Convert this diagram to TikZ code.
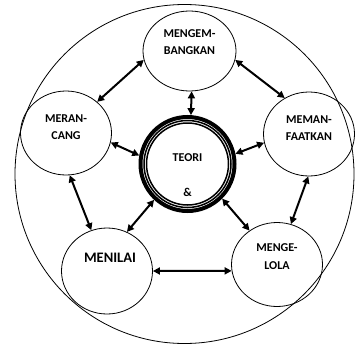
\documentclass[tikz,border=0pt]{standalone}
\usepackage{fontspec}
\setmainfont{Carlito}[BoldFont={Carlito Bold}]
\usetikzlibrary{shapes.geometric,arrows.meta}
\tikzset{
  bubble/.style={draw,ellipse,inner sep=0pt,minimum width=91pt,minimum height=84pt,line width=0.8pt},
  lbl/.style={font=\bfseries\fontsize{12}{17.5}\selectfont,align=center,inner sep=0pt},
}
\begin{document}
\begin{tikzpicture}[x=1pt,y=-1pt,>={Triangle[length=7pt,width=7pt]},line width=2pt]
  \useasboundingbox (0,0) rectangle (355,345);

  % outer circle
  \draw[line width=0.8pt] (184.5,174) circle[radius=169.5pt];

  % five stages
  \node[bubble,minimum width=93pt,minimum height=80pt] (dev) at (189.5,51) {};
  \node[bubble] (design) at (66,133) {};
  \node[bubble] (use) at (309,134) {};
  \node[bubble,minimum height=86pt] (eval) at (107,271) {};
  \node[bubble] (manage) at (277,264.5) {};

  % centre ring
  \node[circle,draw,line width=4pt,minimum size=94pt,inner sep=0pt] (teori) at (187.5,164) {};
  \draw[line width=1.5pt] (teori.center) circle[radius=43.5pt]
                          (teori.center) circle[radius=41pt];

  % labels
  \node[lbl] (devlbl) at ([yshift=9pt]dev.center) {MENGEM-\\BANGKAN};
  \node[lbl] (designlbl) at ([yshift=6pt]design.center) {MERAN-\\CANG};
  \node[lbl] (uselbl) at ([yshift=6pt]use.center) {MEMAN-\\FAATKAN};
  \node[lbl] (managelbl) at ([yshift=8pt]manage.center) {MENGE-\\LOLA};
  \node[lbl,font=\bfseries\fontsize{14.5}{17}\selectfont] (evallbl) at ([xshift=3pt,yshift=13.5pt]eval.center) {MENILAI};
  \node[lbl] (teorilbl) at ([yshift=-10.75pt]teori.center) {TEORI\\[17.75pt]\&};

  % two-way arrows
  \draw[<->] (dev.191) -- (design.45);
  \draw[<->] (dev.349) -- (use.124);
  \draw[<->] (dev.273) -- (teori.86);
  \draw[<->] (design.348) -- (teori.170);
  \draw[<->] (use.191) -- (teori.12);
  \draw[<->] (design.275) -- (eval.111);
  \draw[<->] (use.269) -- (manage.71);
  \draw[<->] (eval.63) -- (teori.227);
  \draw[<->] (manage.129) -- (teori.315);
  \draw[<->] (eval.0) -- (manage.188);
\end{tikzpicture}
\end{document}
